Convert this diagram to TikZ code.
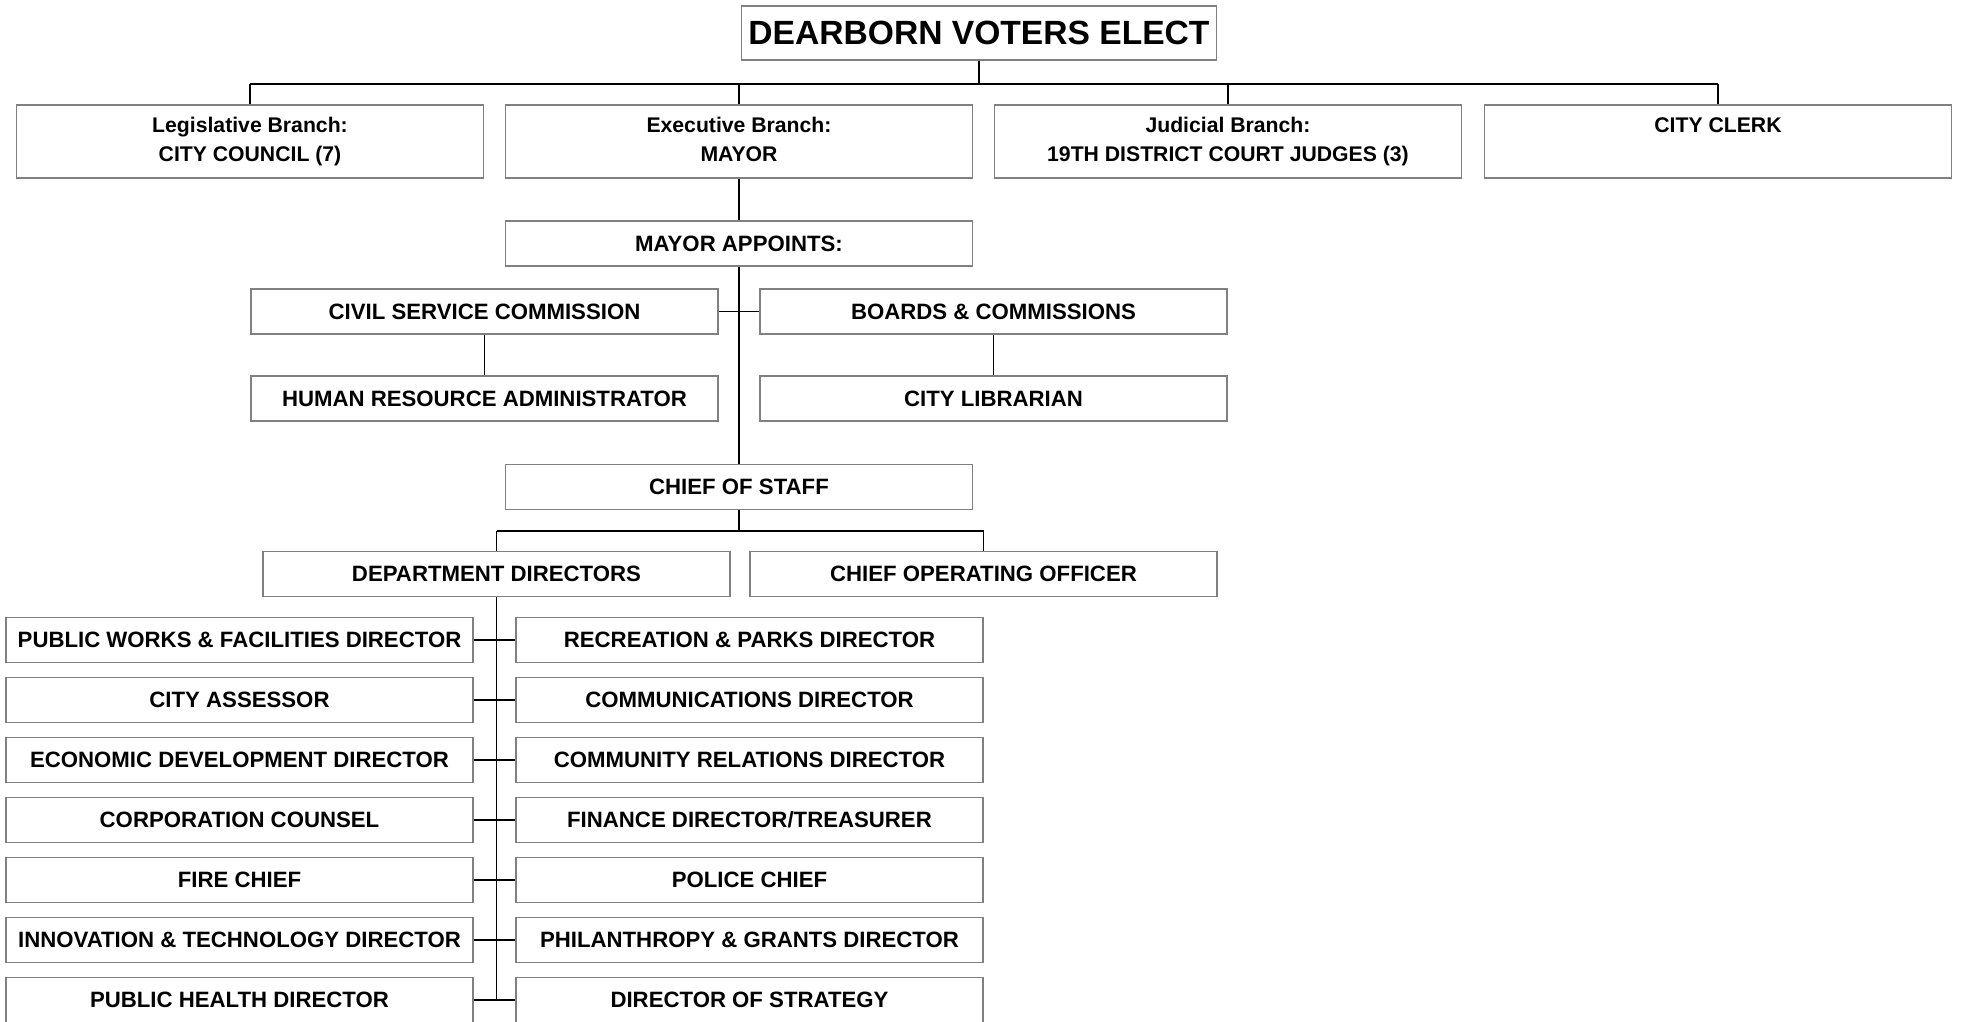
\documentclass[tikz,border=0pt]{standalone}
\usepackage{fontspec}
\setmainfont{Liberation Sans}

\begin{document}
\begin{tikzpicture}[
    x=0.5pt, y=-0.5pt,
    org box/.style = {draw=gray, line width=0.7pt, fill=white, inner sep=0pt,
        minimum width=233.5pt, minimum height=22.5pt, align=center,
        font=\bfseries\fontsize{11.1}{13}\selectfont},
    branch box/.style = {org box, minimum height=36.5pt,
        font=\bfseries\fontsize{10.6}{14.5}\selectfont},
    link/.style = {draw=black, line width=0.75pt},
    bus/.style = {draw=black, line width=1.2pt}
]

% fondo y márgenes
\fill[white] (0,0) rectangle (1961,1022);
\useasboundingbox (0,0) rectangle (1961,1022);

% --- VOTANTES ---
\node[org box, minimum width=237.5pt, minimum height=27pt,
      font=\bfseries\fontsize{16.8}{20}\selectfont] (voters) at (979,33) {DEARBORN VOTERS ELECT};

% --- RAMAS ---
\node[branch box] (legis) at (250,141.5) {\strut Legislative Branch:\\\strut CITY COUNCIL (7)};
\node[branch box] (exec)  at (739,141.5) {\strut Executive Branch:\\\strut MAYOR};
\node[branch box] (judic) at (1228,141.5) {\strut Judicial Branch:\\\strut 19TH DISTRICT COURT JUDGES (3)};
\node[branch box] (clerk) at (1718,141.5) {\strut CITY CLERK\\\strut};

\coordinate (top bus) at (979,84);
\draw[link] (voters.south) -- (top bus);
\draw[bus] (legis.north |- top bus) -- (clerk.north |- top bus);
\foreach \n in {legis,exec,judic,clerk}
    \draw[link] (\n.north |- top bus) -- (\n.north);

% --- NOMBRAMIENTOS DEL ALCALDE ---
\node[org box] (appoints)  at (739,243.5) {MAYOR APPOINTS:};
\node[org box] (civil)     at (484.5,311.5) {CIVIL SERVICE COMMISSION};
\node[org box] (boards)    at (993.5,311.5) {BOARDS \& COMMISSIONS};
\node[org box] (hr)        at (484.5,398.5) {HUMAN RESOURCE ADMINISTRATOR};
\node[org box] (librarian) at (993.5,398.5) {CITY LIBRARIAN};
\node[org box] (staff)     at (739,487) {CHIEF OF STAFF};

\draw[link] (exec.south) -- (appoints.north);
\draw[link] (appoints.south) -- (staff.north);
\draw[link] (civil.east) -- (boards.west);
\draw[link] (civil.south) -- (hr.north);
\draw[link] (boards.south) -- (librarian.north);

% --- JEFE DE GABINETE ---
\node[org box] (directors) at (496.5,574) {DEPARTMENT DIRECTORS};
\node[org box] (coo)       at (983.5,574) {CHIEF OPERATING OFFICER};

\coordinate (staff bus) at (739,531);
\draw[link] (staff.south) -- (staff bus);
\draw[bus] (directors.north |- staff bus) -- (coo.north |- staff bus);
\draw[link] (directors.north |- staff bus) -- (directors.north);
\draw[link] (coo.north |- staff bus) -- (coo.north);

% --- DIRECTORES DE DEPARTAMENTO ---
\foreach \i/\left/\right in {
    1/{PUBLIC WORKS \& FACILITIES DIRECTOR}/{RECREATION \& PARKS DIRECTOR},
    2/{CITY ASSESSOR}/{COMMUNICATIONS DIRECTOR},
    3/{ECONOMIC DEVELOPMENT DIRECTOR}/{COMMUNITY RELATIONS DIRECTOR},
    4/{CORPORATION COUNSEL}/{FINANCE DIRECTOR/TREASURER},
    5/{FIRE CHIEF}/{POLICE CHIEF},
    6/{INNOVATION \& TECHNOLOGY DIRECTOR}/{PHILANTHROPY \& GRANTS DIRECTOR},
    7/{PUBLIC HEALTH DIRECTOR}/{DIRECTOR OF STRATEGY}%
} {
    \node[org box] (l\i) at (239.5,580+60*\i) {\left};
    \node[org box] (r\i) at (749.5,580+60*\i) {\right};
    \draw[link] (l\i.east) -- (r\i.west);
}
\draw[link] (directors.south) -- (directors.south |- l7.east);

\end{tikzpicture}
\end{document}
